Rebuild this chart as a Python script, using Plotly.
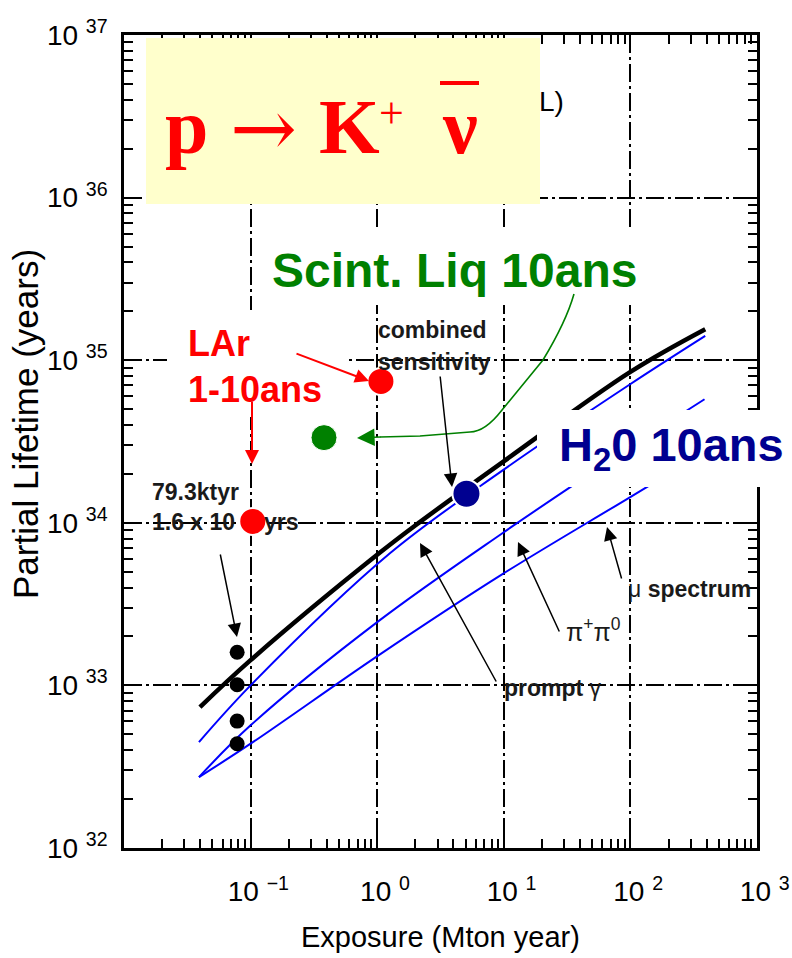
import plotly.graph_objects as go

# ---------------- data ----------------
# exposure in Mton*year, lifetime in years
combined_x = [0.0398, 0.1, 1.01, 2.17, 9.86, 100, 390]
combined_y = [7.35e32, 1.43e33, 6.40e33, 1.01e34, 2.37e34, 8.47e34, 1.55e35]

prompt_gamma_x = [0.0391, 0.1, 1.26, 9.79, 96.8, 390]
prompt_gamma_y = [4.48e32, 1.00e33, 6.49e33, 2.10e34, 7.01e34, 1.41e35]

pipi_x = [0.0391, 0.1, 1.0, 9.62, 96.8, 385]
pipi_y = [2.73e32, 5.68e32, 2.45e33, 8.57e33, 2.87e34, 5.75e34]

mu_x = [0.0391, 0.1, 1.01, 9.62, 96.8, 385]
mu_y = [2.73e32, 4.38e32, 1.52e33, 4.80e33, 1.42e34, 2.72e34]

sk_pts_x = [0.0783, 0.0783, 0.0783, 0.0783]
sk_pts_y = [1.60e33, 1.01e33, 6.03e32, 4.38e32]

lar_x = [1.07, 0.104]
lar_y = [7.4e34, 1.02e34]
scint_x = [0.38]
scint_y = [3.34e34]
h2o_x = [5.07]
h2o_y = [1.51e34]

x_tickvals = [0.1, 1, 10, 100, 1000]
x_exps = ["\u22121", "0", "1", "2", "3"]
y_tickvals = [1e32, 1e33, 1e34, 1e35, 1e36, 1e37]
y_exps = ["32", "33", "34", "35", "36", "37"]

# ---------------- layout helpers (pixel -> paper) ----------------
W, H = 792, 958
L, R, T, B = 124, 757, 35, 848


def xp(px):
    return (px - L) / (R - L)


def yp(py):
    return (B - py) / (B - T)


SANS = "Liberation Sans, Arial, Helvetica, sans-serif"
SERIF = "Liberation Serif, Times New Roman, serif"

fig = go.Figure()

fig.add_trace(go.Scatter(x=mu_x, y=mu_y, mode="lines", line=dict(color="#0000FF", width=2, shape="spline"),
                         showlegend=False, hoverinfo="skip"))
fig.add_trace(go.Scatter(x=pipi_x, y=pipi_y, mode="lines", line=dict(color="#0000FF", width=2, shape="spline"),
                         showlegend=False, hoverinfo="skip"))
fig.add_trace(go.Scatter(x=prompt_gamma_x, y=prompt_gamma_y, mode="lines",
                         line=dict(color="#0000FF", width=2, shape="spline"), showlegend=False, hoverinfo="skip"))
fig.add_trace(go.Scatter(x=combined_x, y=combined_y, mode="lines", line=dict(color="black", width=4.5, shape="spline"),
                         showlegend=False, hoverinfo="skip"))
fig.add_trace(go.Scatter(x=sk_pts_x, y=sk_pts_y, mode="markers", marker=dict(color="black", size=15),
                         showlegend=False, hoverinfo="skip"))
fig.add_trace(go.Scatter(x=lar_x, y=lar_y, mode="markers",
                         marker=dict(color="#FF0000", size=27, line=dict(color="white", width=2)),
                         showlegend=False, hoverinfo="skip"))
fig.add_trace(go.Scatter(x=scint_x, y=scint_y, mode="markers",
                         marker=dict(color="#008000", size=26, line=dict(color="white", width=1)),
                         showlegend=False, hoverinfo="skip"))
fig.add_trace(go.Scatter(x=h2o_x, y=h2o_y, mode="markers",
                         marker=dict(color="#000090", size=28, line=dict(color="white", width=2)),
                         showlegend=False, hoverinfo="skip"))

NB = "\u00a0"
axis_common = dict(
    type="log", showline=True, linecolor="black", linewidth=2.5, mirror="allticks",
    ticks="inside", ticklen=14, tickwidth=2, tickcolor="black",
    showgrid=True, gridcolor="black", gridwidth=1.6, griddash="18px,4px,3px,4px",
    zeroline=False, ticklabeloverflow="allow", automargin=False,
    tickfont=dict(family=SANS, size=28, color="black"),
    minor=dict(ticks="inside", ticklen=9, tickwidth=1.5, tickcolor="black", dtick="D1", showgrid=False),
)

fig.update_xaxes(range=[-2, 3], tickmode="array", tickvals=x_tickvals,
                 ticktext=[NB * 2 + "10" + NB + "<sup>" + e + "</sup>" for e in x_exps],
                 ticklabelstandoff=17, **axis_common)
fig.update_yaxes(range=[32, 37], tickmode="array", tickvals=y_tickvals,
                 ticktext=["10" + NB + "<sup>" + e + "</sup>" for e in y_exps],
                 ticklabelstandoff=8, **axis_common)

shapes = []
# overlay boxes
shapes.append(dict(type="rect", xref="paper", yref="paper", x0=xp(146), x1=xp(540), y0=yp(204), y1=yp(38),
                   fillcolor="#FFFFCC", line=dict(width=0), layer="above"))
shapes.append(dict(type="rect", xref="paper", yref="paper", x0=xp(258), x1=xp(660), y0=yp(305), y1=yp(228),
                   fillcolor="white", line=dict(width=0), layer="above"))
shapes.append(dict(type="rect", xref="paper", yref="paper", x0=xp(167), x1=xp(345), y0=yp(417), y1=yp(310),
                   fillcolor="white", line=dict(width=0), layer="above"))
shapes.append(dict(type="rect", xref="paper", yref="paper", x0=xp(537), x1=xp(792), y0=yp(487), y1=yp(410),
                   fillcolor="white", line=dict(width=0), layer="above"))
# overbar of anti-neutrino
shapes.append(dict(type="line", xref="paper", yref="paper", x0=xp(440), x1=xp(479), y0=yp(83), y1=yp(83),
                   line=dict(color="#FF0000", width=4), layer="above"))
# green curved pointer
gpts = [(574, 294), (566, 322), (543, 360), (502, 410), (482, 429), (470, 432), (420, 436), (380, 437)]
path = "M{:.4f},{:.4f}".format(xp(gpts[0][0]), yp(gpts[0][1]))
path += " Q{:.4f},{:.4f} {:.4f},{:.4f}".format(xp(gpts[1][0]), yp(gpts[1][1]), xp(gpts[2][0]), yp(gpts[2][1]))
path += " L{:.4f},{:.4f}".format(xp(gpts[3][0]), yp(gpts[3][1]))
path += " Q{:.4f},{:.4f} {:.4f},{:.4f}".format(xp(485), yp(432), xp(gpts[5][0]), yp(gpts[5][1]))
path += " L{:.4f},{:.4f} L{:.4f},{:.4f}".format(xp(gpts[6][0]), yp(gpts[6][1]), xp(gpts[7][0]), yp(gpts[7][1]))
shapes.append(dict(type="path", xref="paper", yref="paper", path=path, line=dict(color="#008000", width=1.6),
                   layer="above"))

ann = []


def text(x, y, s, size, color="black", family=SANS, xanchor="left"):
    ann.append(dict(xref="paper", yref="paper", x=xp(x), y=yp(y), text=s, showarrow=False,
                    xanchor=xanchor, yanchor="middle", font=dict(family=family, size=size, color=color)))


def arrow(tipx, tipy, tailx, taily, color="black", width=1.5, head=2, size=1.5):
    ann.append(dict(xref="paper", yref="paper", x=xp(tipx), y=yp(tipy), ax=tailx - tipx, ay=taily - tipy,
                    axref="pixel", ayref="pixel", text="", showarrow=True, arrowcolor=color,
                    arrowwidth=width, arrowhead=head, arrowsize=size, standoff=0, startstandoff=0))


LBL = "#1a1a1a"
# original figure labels
text(537, 101, "L)", 28)
text(150, 492, "<b>79.3ktyr</b>", 23, LBL)
text(150, 522, "<b>1.6 x 10</b>", 23, LBL)
text(262, 522, "<b>yrs</b>", 23, LBL)
text(376, 330, "<b>combined</b>", 23, LBL)
text(376, 362, "<b>sensitivity</b>", 23, LBL)
text(502, 688, "<b>prompt</b> \u03b3", 23, LBL)
text(564, 630, "\u03c0<sup>+</sup>\u03c0<sup>0</sup>", 25, LBL)
text(626, 589, "\u03bc <b>spectrum</b>", 23, LBL)
arrow(237, 637, 220, 553, size=1.8)
arrow(452, 487, 440, 375, size=1.8)
arrow(420, 543, 497, 683, size=1.8)
arrow(518, 542, 560, 633, size=1.8)
arrow(607, 527, 622, 580, size=1.8)

# axis titles
text(440, 937, "Exposure (Mton year)", 29, xanchor="center")
ann.append(dict(xref="paper", yref="paper", x=xp(26), y=yp(424), text="Partial Lifetime (years)", showarrow=False,
                textangle=-90, xanchor="center", yanchor="middle", font=dict(family=SANS, size=35, color="black")))

# overlay title p -> K+ nubar
text(186, 126, "<b>p</b>", 78, "#FF0000", SERIF, "center")
text(263, 128, "\u2192", 80, "#FF0000", "DejaVu Serif, serif", "center")
text(349, 126, "<b>K</b>", 78, "#FF0000", SERIF, "center")
text(391, 113, "+", 44, "#FF0000", SERIF, "center")
text(460, 126, "<b>\u03bd</b>", 78, "#FF0000", SERIF, "center")

# overlay labels
text(454, 270, "<b>Scint. Liq 10ans</b>", 48, "#008000", SANS, "center")
text(186, 344, "<b>LAr</b>", 36, "#FF0000")
text(186, 389, "<b>1-10ans</b>", 36, "#FF0000")
text(557, 448, "<b>H<sub>2</sub>0 10ans</b>", 47, "#000090")
arrow(369, 381, 295, 353, "#FF0000", 2, 2, 1.4)
arrow(252, 464, 252, 400, "#FF0000", 2, 2, 1.4)
arrow(357, 438, 382, 437, "#008000", 1.6, 2, 2.2)

fig.update_layout(
    width=W, height=H,
    margin=dict(l=L, r=W - R, t=T, b=H - B),
    paper_bgcolor="white", plot_bgcolor="white",
    showlegend=False,
    shapes=shapes, annotations=ann,
)

fig.write_html("out.html", config={"displayModeBar": False},
               post_script="document.body.style.margin='0px';document.body.style.overflow='hidden';")
